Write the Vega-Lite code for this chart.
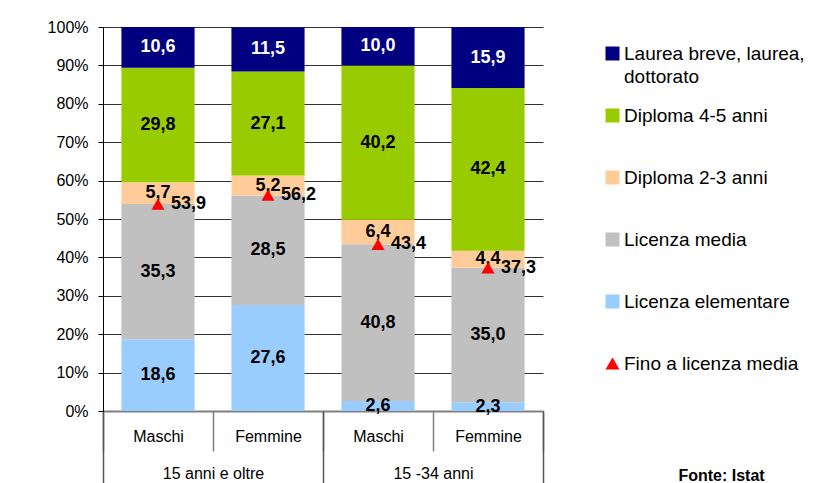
{
  "$schema": "https://vega.github.io/schema/vega-lite/v6.json",
  "width": 440,
  "height": 384,
  "autosize": {"type": "none"},
  "padding": {"left": 103, "top": 27, "right": 274, "bottom": 72},
  "background": "white",
  "config": {
    "locale": {"number": {"decimal": ",", "thousands": ".", "grouping": [3], "currency": ["€", ""]}},
    "font": "Liberation Sans",
    "view": {"stroke": null},
    "axisY": {"tickCount": 20, "labelOverlap": false}
  },
  "datasets": {
    "seg": [
      {"cat": "Maschi 15+", "serie": "Licenza elementare", "ord": 1, "val": 18.6},
      {"cat": "Maschi 15+", "serie": "Licenza media", "ord": 2, "val": 35.3},
      {"cat": "Maschi 15+", "serie": "Diploma 2-3 anni", "ord": 3, "val": 5.7},
      {"cat": "Maschi 15+", "serie": "Diploma 4-5 anni", "ord": 4, "val": 29.8},
      {"cat": "Maschi 15+", "serie": "Laurea breve, laurea, dottorato", "ord": 5, "val": 10.6},
      {"cat": "Femmine 15+", "serie": "Licenza elementare", "ord": 1, "val": 27.6},
      {"cat": "Femmine 15+", "serie": "Licenza media", "ord": 2, "val": 28.5},
      {"cat": "Femmine 15+", "serie": "Diploma 2-3 anni", "ord": 3, "val": 5.2},
      {"cat": "Femmine 15+", "serie": "Diploma 4-5 anni", "ord": 4, "val": 27.1},
      {"cat": "Femmine 15+", "serie": "Laurea breve, laurea, dottorato", "ord": 5, "val": 11.5},
      {"cat": "Maschi 15-34", "serie": "Licenza elementare", "ord": 1, "val": 2.6},
      {"cat": "Maschi 15-34", "serie": "Licenza media", "ord": 2, "val": 40.8},
      {"cat": "Maschi 15-34", "serie": "Diploma 2-3 anni", "ord": 3, "val": 6.4},
      {"cat": "Maschi 15-34", "serie": "Diploma 4-5 anni", "ord": 4, "val": 40.2},
      {"cat": "Maschi 15-34", "serie": "Laurea breve, laurea, dottorato", "ord": 5, "val": 10.0},
      {"cat": "Femmine 15-34", "serie": "Licenza elementare", "ord": 1, "val": 2.3},
      {"cat": "Femmine 15-34", "serie": "Licenza media", "ord": 2, "val": 35.0},
      {"cat": "Femmine 15-34", "serie": "Diploma 2-3 anni", "ord": 3, "val": 4.4},
      {"cat": "Femmine 15-34", "serie": "Diploma 4-5 anni", "ord": 4, "val": 42.4},
      {"cat": "Femmine 15-34", "serie": "Laurea breve, laurea, dottorato", "ord": 5, "val": 15.9}
    ],
    "fino": [
      {"cat": "Maschi 15+", "serie": "Fino a licenza media", "val": 53.9},
      {"cat": "Femmine 15+", "serie": "Fino a licenza media", "val": 56.2},
      {"cat": "Maschi 15-34", "serie": "Fino a licenza media", "val": 43.4},
      {"cat": "Femmine 15-34", "serie": "Fino a licenza media", "val": 37.3}
    ],
    "gruppi": [
      {"gruppo": "15 anni e oltre"},
      {"gruppo": "15 -34 anni"}
    ]
  },
  "layer": [
    {
      "encoding": {
        "x": {
          "field": "cat", "type": "nominal",
          "scale": {"domain": ["Maschi 15+", "Femmine 15+", "Maschi 15-34", "Femmine 15-34"], "paddingInner": 0, "paddingOuter": 0},
          "axis": {
            "orient": "bottom", "title": null,
            "labelExpr": "split(datum.label, ' ')[0]",
            "tickBand": "extent", "tickSize": 40, "tickColor": "#808080", "tickWidth": 1.5,
            "domainColor": "#808080", "domainWidth": 2,
            "labelPadding": -23, "labelFontSize": 16, "labelColor": "black", "labelAngle": 0
          }
        }
      },
      "layer": [
        {
          "data": {"name": "seg"},
          "transform": [
            {"stack": "val", "groupby": ["cat"], "sort": [{"field": "ord", "order": "ascending"}], "as": ["v0", "v1"]},
            {"calculate": "(datum.v0 + datum.v1) / 2", "as": "mid"}
          ],
          "layer": [
            {
              "mark": {"type": "bar", "width": {"band": 0.665}},
              "encoding": {
                "y": {
                  "field": "v0", "type": "quantitative",
                  "scale": {"domain": [0, 100], "nice": false},
                  "axis": {
                    "title": null, "values": [0, 10, 20, 30, 40, 50, 60, 70, 80, 90, 100], "tickCount": 20,
                    "labelExpr": "datum.value + '%'",
                    "tickSize": 5, "tickColor": "black", "domainColor": "black", "domainWidth": 1,
                    "labelPadding": 10, "labelFontSize": 16, "labelColor": "black", "labelOverlap": false,
                    "grid": true, "gridColor": "#333333", "gridWidth": 1
                  }
                },
                "y2": {"field": "v1"},
                "color": {
                  "field": "serie", "type": "nominal",
                  "scale": {
                    "domain": ["Laurea breve, laurea, dottorato", "Diploma 4-5 anni", "Diploma 2-3 anni", "Licenza media", "Licenza elementare", "Fino a licenza media"],
                    "range": ["#000080", "#99CC00", "#FFCC99", "#C0C0C0", "#99CCFF", "#FF0000"]
                  },
                  "legend": {
                    "title": null, "orient": "none", "legendX": 500, "legendY": 17,
                    "symbolType": "square", "symbolSize": 196, "symbolStrokeWidth": 0,
                    "labelFontSize": 19, "labelColor": "black", "labelLimit": 400, "labelOffset": 2,
                    "gridAlign": "all", "rowPadding": 19, "padding": 0,
                    "labelExpr": "datum.value === 'Laurea breve, laurea, dottorato' ? ['Laurea breve, laurea,', 'dottorato'] : datum.label",
                    "encode": {
                      "symbols": {"update": {"shape": {"signal": "datum.value === 'Fino a licenza media' ? 'triangle-up' : 'square'"}}},
                      "labels": {"update": {"lineHeight": {"value": 23}}}
                    }
                  }
                }
              }
            },
            {
              "mark": {"type": "text", "fontWeight": "bold", "fontSize": 18, "baseline": "middle"},
              "encoding": {
                "y": {
                  "field": "mid", "type": "quantitative",
                  "axis": {
                    "title": null, "values": [0, 10, 20, 30, 40, 50, 60, 70, 80, 90, 100], "tickCount": 20,
                    "labelExpr": "datum.value + '%'",
                    "tickSize": 5, "tickColor": "black", "domainColor": "black", "domainWidth": 1,
                    "labelPadding": 10, "labelFontSize": 16, "labelColor": "black", "labelOverlap": false,
                    "grid": true, "gridColor": "#333333", "gridWidth": 1
                  }
                },
                "text": {"field": "val", "type": "quantitative", "format": ".1f"},
                "color": {"condition": {"test": "datum.serie === 'Laurea breve, laurea, dottorato'", "value": "white"}, "value": "black"}
              }
            }
          ]
        },
        {
          "data": {"name": "fino"},
          "layer": [
            {
              "mark": {"type": "point", "shape": "triangle-up", "filled": true, "size": 170, "opacity": 1},
              "encoding": {
                "y": {
                  "field": "val", "type": "quantitative",
                  "axis": {
                    "title": null, "values": [0, 10, 20, 30, 40, 50, 60, 70, 80, 90, 100], "tickCount": 20,
                    "labelExpr": "datum.value + '%'",
                    "tickSize": 5, "tickColor": "black", "domainColor": "black", "domainWidth": 1,
                    "labelPadding": 10, "labelFontSize": 16, "labelColor": "black", "labelOverlap": false,
                    "grid": true, "gridColor": "#333333", "gridWidth": 1
                  }
                },
                "color": {"field": "serie", "type": "nominal"}
              }
            },
            {
              "mark": {"type": "text", "fontWeight": "bold", "fontSize": 18, "align": "left", "baseline": "middle", "dx": 13, "color": "black"},
              "encoding": {
                "y": {
                  "field": "val", "type": "quantitative",
                  "axis": {
                    "title": null, "values": [0, 10, 20, 30, 40, 50, 60, 70, 80, 90, 100], "tickCount": 20,
                    "labelExpr": "datum.value + '%'",
                    "tickSize": 5, "tickColor": "black", "domainColor": "black", "domainWidth": 1,
                    "labelPadding": 10, "labelFontSize": 16, "labelColor": "black", "labelOverlap": false,
                    "grid": true, "gridColor": "#333333", "gridWidth": 1
                  }
                },
                "text": {"field": "val", "type": "quantitative", "format": ".1f"}
              }
            }
          ]
        }
      ]
    },
    {
      "data": {"name": "gruppi"},
      "mark": {"type": "text", "opacity": 0},
      "encoding": {
        "x": {
          "field": "gruppo", "type": "nominal",
          "scale": {"domain": ["15 anni e oltre", "15 -34 anni"], "paddingInner": 0, "paddingOuter": 0},
          "axis": {
            "orient": "bottom", "title": "Fonte: Istat",
            "titleX": 618, "titleY": 64, "titleAlign": "center", "titleBaseline": "middle",
            "titleFontSize": 16, "titleFontWeight": "bold", "titleColor": "black",
            "tickBand": "extent", "tickSize": 75, "tickColor": "#555555", "tickWidth": 1.5,
            "domain": false,
            "labelPadding": -21, "labelFontSize": 16, "labelColor": "black", "labelAngle": 0
          }
        },
        "text": {"field": "gruppo"}
      }
    }
  ],
  "resolve": {"scale": {"x": "independent"}}
}
